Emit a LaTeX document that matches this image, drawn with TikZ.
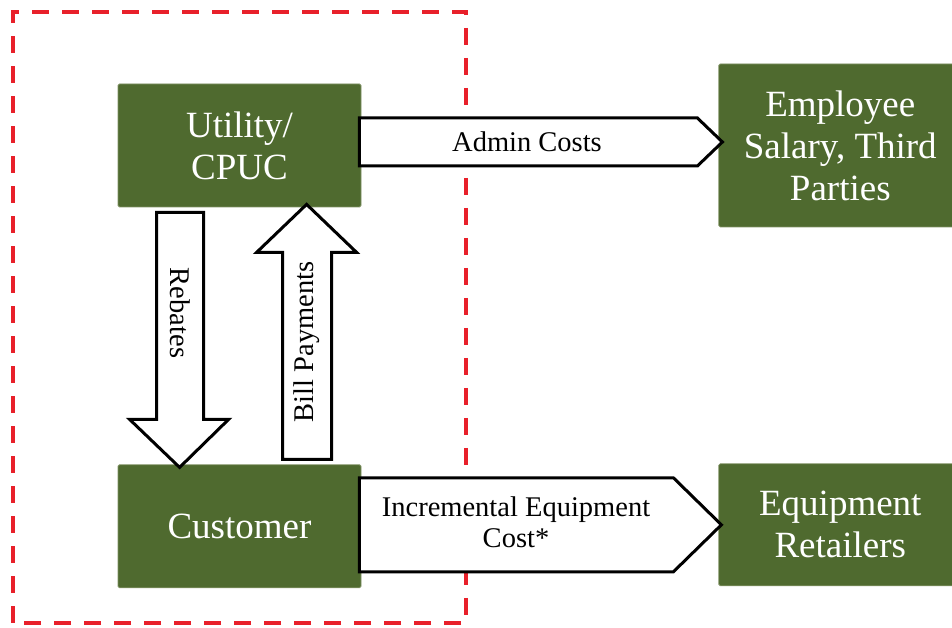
\documentclass[tikz,border=0pt]{standalone}
\usepackage{fontspec}
\setmainfont{Liberation Serif}
\usepackage{tikz}
\usetikzlibrary{positioning}

\definecolor{boxgreen}{HTML}{4F6A2F}
\definecolor{boxedge}{HTML}{7F9163}
\definecolor{regionred}{HTML}{E8202A}

\begin{document}
\begin{tikzpicture}[
    x=1pt, y=1pt,
    greenbox/.style={fill=boxgreen, draw=boxedge, line width=0.8pt, rounded corners=1.5pt,
        minimum width=243pt, text=white, align=center, inner sep=0pt,
        font=\fontsize{37}{42}\selectfont},
    blockarrow/.style={draw=black, fill=white, line width=3pt, line join=miter},
    arrowlabel/.style={align=center, inner sep=0pt, font=\fontsize{28.5}{31}\selectfont},
    regionline/.style={draw=regionred, line width=3.5pt, dash pattern=on 17pt off 13pt}
]
\useasboundingbox (0,0) rectangle (952,628);

% 虚线区域
\draw[regionline] (13,5) rectangle (466,616);

% 左侧节点组
\node[greenbox, minimum height=123pt] (utility) at (239.5,482.5) {Utility/\\CPUC};
\node[greenbox, minimum height=123pt, below=257pt of utility] (customer) {Customer};

% 右侧节点组
\node[greenbox, minimum height=163pt, right=357pt of utility] (employee) {Employee\\Salary, Third\\Parties};
\node[greenbox, minimum height=122pt, right=357pt of customer, yshift=1.5pt] (retailers) {Equipment\\Retailers};

% 箭头
\draw[blockarrow] ([xshift=-2pt,yshift=27.5pt]utility.east) -- ++(338,0)
    -- ([xshift=4pt,yshift=3.5pt]employee.west) -- ++(-25,-24) -- ++(-338,0) -- cycle;
\draw[blockarrow] ([xshift=-2pt,yshift=48.5pt]customer.east) -- ++(314,0)
    -- ([xshift=3pt]retailers.west) -- ++(-48,-47) -- ++(-314,0) -- cycle;
\draw[blockarrow] ([xshift=39pt,yshift=-5pt]utility.south west) -- ++(47,0) -- ++(0,-207) -- ++(25,0)
    -- ([xshift=62pt,yshift=-3pt]customer.north west) -- ++(-50,48) -- ++(27,0) -- cycle;
\draw[blockarrow] ([xshift=165pt,yshift=5pt]customer.north west) -- ++(49,0) -- ++(0,207) -- ++(25,0)
    -- ([xshift=189pt,yshift=3pt]utility.south west) -- ++(-50,-48) -- ++(26,0) -- cycle;

% 箭头标签
\node[arrowlabel] (admin) at (527,486) {Admin Costs};
\node[arrowlabel] (equipcost) at (516,106) {Incremental Equipment\\Cost*};
\node[arrowlabel, rotate=-90] (rebates) at (180,315) {Rebates};
\node[arrowlabel, rotate=90] (billpay) at (307,286) {Bill Payments};

\end{tikzpicture}
\end{document}
